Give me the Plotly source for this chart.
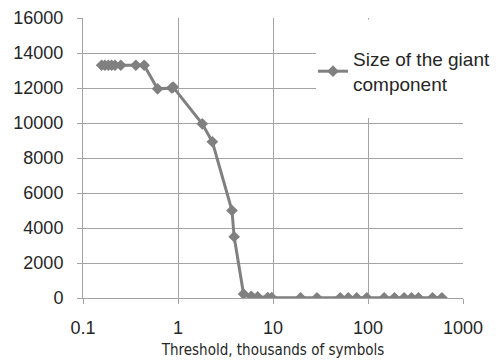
import plotly.graph_objects as go

threshold = [0.157, 0.170, 0.185, 0.200, 0.217, 0.25, 0.36, 0.44, 0.61, 0.86, 0.89,
             1.8, 2.3, 3.7, 3.9, 4.9, 5.9, 6.9, 8.8, 9.7,
             19.5, 29, 51, 62, 76, 97, 148, 190, 240, 287, 340, 478, 600]
giant = [13300, 13300, 13300, 13300, 13300, 13300, 13300, 13300, 11950, 12000, 12050,
         9950, 8930, 5000, 3500, 230, 100, 60, 30, 20,
         10, 10, 10, 10, 10, 10, 10, 10, 10, 10, 10, 10, 10]
y_ticks = [0, 2000, 4000, 6000, 8000, 10000, 12000, 14000, 16000]
x_ticks = [0.1, 1, 10, 100, 1000]
series_name = "Size of the giant<br>component"

L, R, T, B = 83, 33, 18, 62
W, H = 496, 360
pw, ph = W - L - R, H - T - B

def px_x(p):
    return (p - L) / pw

def px_y(p):
    return (H - B - p) / ph

fig = go.Figure()
fig.add_trace(go.Scatter(
    x=threshold, y=giant, mode="lines+markers", name=series_name,
    line=dict(color="#808080", width=3),
    marker=dict(symbol="diamond", size=9, color="#808080"),
))

grid = "#a3a3a3"
fig.update_layout(
    width=W, height=H,
    margin=dict(l=L, r=R, t=T, b=B, autoexpand=False),
    paper_bgcolor="white", plot_bgcolor="white",
    font=dict(family="Liberation Sans, Arial, sans-serif", color="#262626", size=18),
    showlegend=True,
    legend=dict(x=px_x(313), y=px_y(40), xanchor="left", yanchor="top",
                bgcolor="rgba(0,0,0,0)", font=dict(size=19, color="#262626"),
                itemwidth=30, tracegroupgap=0),
    shapes=[dict(type="rect", xref="paper", yref="paper",
                 x0=px_x(316), x1=px_x(470), y0=px_y(118), y1=px_y(19.5),
                 fillcolor="white", line=dict(width=0), layer="above")],
    xaxis=dict(type="log", range=[-1, 3], tickvals=x_ticks,
               ticktext=[str(v) for v in x_ticks], automargin=False,
               showgrid=True, gridcolor=grid, gridwidth=1,
               showline=True, linecolor=grid, linewidth=1,
               ticks="outside", ticklen=5, tickcolor=grid,
               ticklabelstandoff=8, zeroline=False,
               title=dict(text="Threshold, thousands of symbols",
                          font=dict(family="DejaVu Sans Condensed, Liberation Sans, sans-serif",
                                    size=15, color="#262626"),
                          standoff=7)),
    yaxis=dict(range=[0, 16000], tickvals=y_ticks,
               ticktext=[str(v) for v in y_ticks], automargin=False,
               showgrid=True, gridcolor=grid, gridwidth=1,
               showline=True, linecolor=grid, linewidth=1,
               ticks="outside", ticklen=5, tickcolor=grid,
               ticklabelstandoff=10, zeroline=False),
)

fig.write_html("out.html")
